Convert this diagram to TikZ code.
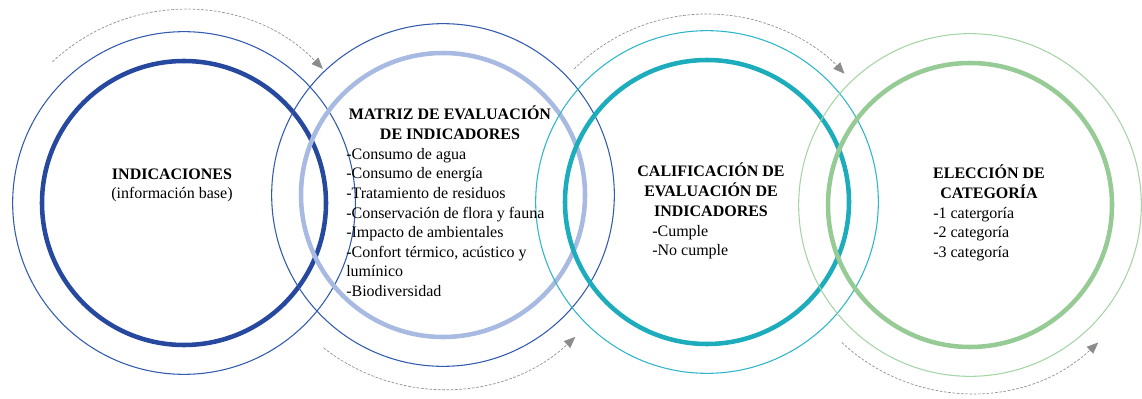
\documentclass[tikz,border=0pt]{standalone}
\usepackage{fontspec}
\setmainfont{Liberation Serif}
\usetikzlibrary{arrows.meta,positioning,calc}
\definecolor{DeepBlue}{RGB}{38,72,158}
\definecolor{ThinBlue}{RGB}{50,90,175}
\definecolor{SoftBlue}{RGB}{168,186,226}
\definecolor{DeepTeal}{RGB}{28,172,188}
\definecolor{ThinTeal}{RGB}{45,182,200}
\definecolor{SoftGreen}{RGB}{150,203,150}
\definecolor{ThinGreen}{RGB}{165,212,165}
\definecolor{FlowGray}{RGB}{140,140,140}
\tikzset{
  ring base/.style={
    draw,
    circle,
    inner sep=0pt,
  },
  inner ring/.style={
    ring base,
    minimum size=213pt,
    line width=3.4pt,
  },
  outer ring/.style={
    ring base,
    minimum size=257pt,
    line width=0.8pt,
  },
  title text/.style={
    font=\fontsize{12pt}{14.7pt}\selectfont\bfseries,
    align=center,
    anchor=base,
    inner sep=0pt,
  },
  list text/.style={
    font=\fontsize{12pt}{14.7pt}\selectfont,
    align=left,
    anchor=base west,
    inner sep=0pt,
  },
  flow/.style={
    draw=FlowGray,
    line width=0.5pt,
    dash pattern=on 2pt off 1.2pt,
    -{Triangle[length=8.5pt,width=7pt,fill=FlowGray]},
  },
}

\begin{document}
\begin{tikzpicture}[x=0.75pt,y=0.75pt]

\useasboundingbox (0,0) rectangle (1142,-399);

% Rings, one pair per step.
\node[outer ring,draw=ThinBlue] (o1) at (184,-203) {};
\node[inner ring,draw=DeepBlue] (c1) at (184,-203) {};
\node[outer ring,draw=ThinBlue] (o2) at (443,-195) {};
\node[inner ring,draw=SoftBlue] (c2) at (443,-195) {};
\node[outer ring,draw=ThinTeal] (o3) at (707,-202) {};
\node[inner ring,draw=DeepTeal] (c3) at (707,-202) {};
\node[outer ring,draw=ThinGreen] (o4) at (970,-205) {};
\node[inner ring,draw=SoftGreen] (c4) at (970,-205) {};

% Step texts (anchored on the last baseline).
\node[title text] (t1) at (172,-199) {INDICACIONES\\\mdseries(información base)};

\node[title text] (t2) at (450,-139.6) {MATRIZ DE EVALUACIÓN\\DE INDICADORES};
\node[list text] (l2) at (346,-296.5) {-Consumo de agua\\-Consumo de energía\\-Tratamiento de residuos\\-Conservación de flora y fauna\\-Impacto de ambientales\\-Confort térmico, acústico y\\lumínico\\-Biodiversidad};

\node[title text] (t3) at (711,-216.2) {CALIFICACIÓN DE\\EVALUACIÓN DE\\INDICADORES};
\node[list text] (l3) at (652,-255.6) {-Cumple\\-No cumple};

\node[title text] (t4) at (989,-198.6) {ELECCIÓN DE\\CATEGORÍA};
\node[list text] (l4) at (933,-257.2) {-1 catergoría\\-2 categoría\\-3 categoría};

% Dashed flow arrows around the rings.
\draw[flow] ([shift={(133:193)}]c1.center) arc[start angle=133,end angle=44,radius=193];
\draw[flow] ([shift={(-128:194)}]c2.center) arc[start angle=-128,end angle=-47,radius=194];
\draw[flow] ([shift={(135:188)}]c3.center) arc[start angle=135,end angle=43,radius=188];
\draw[flow] ([shift={(-133:188)}]c4.center) arc[start angle=-133,end angle=-47,radius=188];

\end{tikzpicture}
\end{document}
